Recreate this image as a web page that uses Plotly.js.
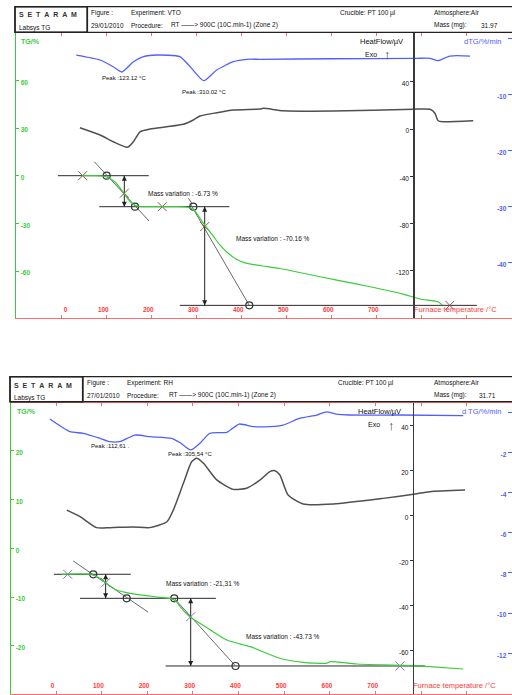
<!DOCTYPE html>
<html><head><meta charset="utf-8">
<script src="https://cdn.plot.ly/plotly-3.0.1.min.js"></script>
<style>html,body{margin:0;padding:0;background:#fff;}#chart{width:512px;height:695px;}</style>
</head><body><div id="chart"></div>
<script>
// ================= DATA: top experiment (VTO) =================
const tempA_tg = [54, 82, 93, 104, 115, 126, 137, 146, 155, 164, 173, 186, 204, 266, 284, 293, 302, 310, 319, 330, 344, 359, 377, 395, 417, 448, 493, 544, 619, 693, 766, 804, 844, 853];
const tgA      = [0, 0, -0.1, -0.5, -1.8, -4.0, -7.7, -11.2, -14.7, -17.5, -18.9, -19.4, -19.5, -19.5, -19.7, -20.3, -21.6, -24.7, -28.5, -32.9, -37.9, -43.6, -48.7, -52.4, -55.0, -56.5, -58.4, -61.4, -65.7, -69.9, -74.5, -77.6, -79.3, -81.4];
const tempA_hf = [48, 93, 122, 154, 167, 182, 204, 241, 278, 300, 315, 352, 389, 448, 456, 500, 611, 789, 826, 837, 844, 856, 922];
const hfA      = [1.1, -5.1, -10.8, -15.5, -10.8, -2.3, 0, 1.9, 4.0, 7.6, 11.0, 13.8, 16.1, 16.9, 17.5, 15.5, 15.2, 16.7, 16.7, 13.3, 7.0, 6.2, 7.0];
const tempA_dtg = [40, 93, 122, 141, 167, 189, 219, 270, 293, 323, 352, 389, 419, 448, 604, 796, 826, 844, 870, 915];
const dtgA      = [-2.95, -3.84, -5.04, -5.98, -4.14, -3.25, -2.95, -3.25, -5.04, -7.54, -5.63, -4.14, -3.71, -3.71, -3.62, -3.54, -3.54, -3.96, -3.13, -3.13];
// tangent construction (top)
const baseA_T  = [-1, 201, null, 91, 380, null, 270, 930];
const baseA_TG = [0, 0, null, -19.5, -19.5, null, -81.6, -81.6];
const tanA_T   = [80, 201.6, null, 292.7, 424.4, null, 289, 297.8];
const tanA_TG  = [8.8, -28.5, null, -17.4, -81.6, null, -14.2, -17.8];
const arrA_T   = [146.7, 146.7, null, 325.3, 325.3];
const arrA_TG  = [0, -19.5, null, -19.5, -81.6];
const crossA_T  = [54, 146.7, 231, 325.3, 870];
const crossA_TG = [0, -11, -19.5, -32, -81.6];
const ringA_T  = [107.5, 170.4, 300, 424.4];
const ringA_TG = [0, -19.5, -19.5, -81.6];

// ================= DATA: bottom experiment (RH) =================
const tempB_tg = [20, 82, 104, 122, 140, 169, 206, 235, 257, 271, 279, 300, 337, 381, 432, 497, 548, 599, 607, 665, 767, 825, 898];
const tgB      = [-5.33, -5.33, -6.15, -7.53, -8.55, -9.23, -9.72, -10.05, -10.26, -10.95, -11.98, -14.03, -16.25, -18.81, -20.18, -22.56, -23.38, -23.59, -23.26, -23.73, -24.0, -24.29, -24.76];
const tempB_hf = [31, 60, 96, 126, 176, 213, 250, 264, 286, 304, 315, 330, 359, 395, 424, 454, 475, 486, 497, 515, 548, 614, 723, 789, 825, 902];
const hfB      = [2.5, -0.4, -5.3, -5.3, -5.0, -5.3, -2.7, 2.5, 14.4, 24.0, 25.5, 23.3, 15.9, 11.7, 12.2, 15.9, 19.6, 20.0, 18.1, 9.2, 5.2, 5.2, 7.7, 9.5, 10.7, 11.4];
const tempB_dtg = [-6, 38, 67, 104, 125, 147, 180, 213, 260, 279, 302, 322, 344, 381, 408, 439, 475, 504, 541, 578, 599, 621, 650, 760, 898];
const dtgB      = [-0.33, -0.96, -1.04, -1.29, -1.46, -1.46, -1.13, -1.21, -1.29, -1.51, -1.87, -1.54, -1.04, -0.99, -0.58, -0.71, -0.71, -0.63, -0.29, -0.13, 0.03, -0.09, -0.13, -0.13, -0.16];
const baseB_T  = [3, 171, null, 60, 357, null, 247, 814];
const baseB_TG = [-5.33, -5.33, null, -10.26, -10.26, null, -24.14, -24.14];
const tanB_T   = [45, 209, null, 266, 400];
const tanB_TG  = [-2.6, -13.1, null, -10.26, -24.14];
const arrB_T   = [116, 116, null, 302, 302];
const arrB_TG  = [-5.33, -10.26, null, -10.26, -24.14];
const crossB_T  = [33, 116, 302, 759.5];
const crossB_TG = [-5.33, -7.05, -14.03, -24.14];
const ringB_T  = [89, 162, 266, 400];
const ringB_TG = [-5.33, -10.26, -10.26, -24.14];

// tick labels
const tempTicks = [0, 100, 200, 300, 400, 500, 600, 700];
const tempTextA = ['\u2007\u2007\u2007\u20070', '100', '200', '300', '400', '500', '600', '700'];
const tempTextB = ['0', '100', '200', '300', '400', '500', '600', '700'];
const tgTicksA = [-60, -30, 0, 30, 60];
const tgTextA = ['-60', '-30', '0', '30', '60'];
const hfTicksA = [40, 0, -40, -80, -120];
const hfTextA = ['40', '0', '-40', '-80', '-120'];
const dtgTicksA = [0, -10, -20, -30, -40];
const dtgTextA = ['', '-10', '-20', '-30', '-40'];
const tgTicksB = [-20, -10, 0, 10, 20];
const tgTextB = ['-20', '-10', '0', '10', '20'];
const hfTicksB = [40, 20, 0, -20, -40, -60];
const hfTextB = ['40', '20', '0', '-20', '-40', '-60'];
const dtgTicksB = [0, -2, -4, -6, -8, -10, -12];
const dtgTextB = ['', '-2', '-4', '-6', '-8', '-10', '-12'];

// ================= STYLE / LAYOUT =================
const W = 512, H = 695;
const FONT = 'Liberation Sans, Arial, sans-serif';
const GREEN = '#3acb3a', BLUE = '#5060ff', RED = '#ff3b3b', REDLINE = '#ff6b6b', HFC = '#505050';
const PX = x => x / W, PY = y => 1 - y / H;
function xr(p0, s, lo, hi) { return [(lo - p0) / s, (hi - p0) / s]; }
function yr(p0, s, top, bot) { return [(p0 - bot) / s, (p0 - top) / s]; }

const A = {l: 16, r: 512, t: 33, b: 318};
const B = {l: 11, r: 512, t: 403.3, b: 694};

function curve(x, y, xa, ya, color, w) {
  return {type: 'scatter', mode: 'lines', x: x, y: y, xaxis: xa, yaxis: ya,
    line: {color: color, width: w, shape: 'spline', smoothing: 0.6}, hoverinfo: 'skip', connectgaps: false};
}
function cons(bx, by, tx, ty, ax, ay, cx, cy, rx, ry, xa, ya) {
  return [
    {type: 'scatter', mode: 'lines', x: bx, y: by, xaxis: xa, yaxis: ya, line: {color: '#2a2a2a', width: 1}, hoverinfo: 'skip'},
    {type: 'scatter', mode: 'lines', x: tx, y: ty, xaxis: xa, yaxis: ya, line: {color: '#6a6a6a', width: 1}, hoverinfo: 'skip'},
    {type: 'scatter', mode: 'lines+markers', x: ax, y: ay, xaxis: xa, yaxis: ya, line: {color: '#222', width: 1},
      marker: {symbol: ['arrow-up', 'arrow-down', 'circle', 'arrow-up', 'arrow-down'], size: 5, color: '#222'}, hoverinfo: 'skip'},
    {type: 'scatter', mode: 'markers', x: cx, y: cy, xaxis: xa, yaxis: ya,
      marker: {symbol: 'x-thin-open', size: 9, line: {color: '#555', width: 1}}, hoverinfo: 'skip'},
    {type: 'scatter', mode: 'markers', x: rx, y: ry, xaxis: xa, yaxis: ya,
      marker: {symbol: 'circle-open', size: 7, color: '#333', line: {color: '#333', width: 1.2}}, hoverinfo: 'skip'}
  ];
}

const data = [
  curve(tempA_dtg, dtgA, 'x', 'y3', BLUE, 1.3),
  curve(tempA_hf, hfA, 'x', 'y2', HFC, 1.5),
  ...cons(baseA_T, baseA_TG, tanA_T, tanA_TG, arrA_T, arrA_TG, crossA_T, crossA_TG, ringA_T, ringA_TG, 'x', 'y'),
  curve(tempA_tg, tgA, 'x', 'y', GREEN, 1.2),
  {type: 'scatter', mode: 'markers', x: [0], y: [null], xaxis: 'x2', yaxis: 'y', hoverinfo: 'skip'},
  curve(tempB_dtg, dtgB, 'x3', 'y6', BLUE, 1.3),
  curve(tempB_hf, hfB, 'x3', 'y5', HFC, 1.5),
  ...cons(baseB_T, baseB_TG, tanB_T, tanB_TG, arrB_T, arrB_TG, crossB_T, crossB_TG, ringB_T, ringB_TG, 'x3', 'y4'),
  curve(tempB_tg, tgB, 'x3', 'y4', GREEN, 1.2),
  {type: 'scatter', mode: 'markers', x: [0], y: [null], xaxis: 'x4', yaxis: 'y4', hoverinfo: 'skip'}
];

const base = {showgrid: false, zeroline: false, automargin: false, fixedrange: true};
function tempAxis(P, cal, anchor, txt) {
  return Object.assign({}, base, {domain: [PX(P.l), PX(P.r)], range: xr(cal[0], cal[1], P.l, P.r), anchor: anchor,
    tickmode: 'array', tickvals: tempTicks, ticktext: txt, ticks: '', showline: false, ticklabelposition: 'inside', ticklabelstandoff: 2,
    tickfont: {family: FONT, size: 6.5, color: RED, weight: 'bold'}});
}
function frameAxis(P, cal, over, anchor) {
  return Object.assign({}, base, {overlaying: over, anchor: anchor, range: xr(cal[0], cal[1], P.l, P.r),
    tickmode: 'linear', tick0: 0, dtick: 1, ticks: 'inside', ticklen: 3, tickcolor: REDLINE, tickwidth: 1,
    showline: true, linecolor: REDLINE, linewidth: 1.3, mirror: 'ticks', showticklabels: false});
}
function tgAxis(P, cal, anchor, vals, txt) {
  return Object.assign({}, base, {domain: [PY(P.b), PY(P.t)], range: yr(cal[0], cal[1], P.t, P.b), anchor: anchor,
    tickmode: 'array', tickvals: vals, ticktext: txt, ticks: 'inside', ticklen: 3, tickcolor: GREEN, showline: true, linecolor: GREEN, linewidth: 1.5,
    ticklabelposition: 'inside', ticklabelshift: 2, tickfont: {family: FONT, size: 6.5, color: GREEN, weight: 'bold'}});
}
function hfAxis(P, cal, over, pos, vals, txt) {
  return Object.assign({}, base, {overlaying: over, anchor: 'free', position: pos, side: 'left', range: yr(cal[0], cal[1], P.t, P.b),
    tickmode: 'array', tickvals: vals, ticktext: txt, ticks: 'outside', ticklen: 3, tickcolor: '#333', showline: true, linecolor: '#3a3a3a', linewidth: 1.5,
    ticklabelshift: 2, tickfont: {family: FONT, size: 6.5, color: '#111'}});
}
function dtgAxis(P, cal, over, anchor, vals, txt) {
  return Object.assign({}, base, {overlaying: over, anchor: anchor, side: 'right', range: yr(cal[0], cal[1], P.t, P.b),
    tickmode: 'array', tickvals: vals, ticktext: txt, ticks: 'inside', ticklen: 4, tickcolor: BLUE, showline: false,
    ticklabelposition: 'inside', ticklabelshift: 2, tickfont: {family: FONT, size: 6.5, color: BLUE, weight: 'bold'}});
}

function T(text, x, y, o) {
  o = o || {};
  return {text: text, x: PX(x), y: PY(y), xref: 'paper', yref: 'paper', showarrow: false,
    xanchor: o.a || 'left', yanchor: 'middle', borderpad: 0,
    font: {family: FONT, size: o.s || 6.5, color: o.c || '#111', weight: o.w || 'normal'}};
}
const ARROW = 'RT \u2014\u2014> 900C (10C.min-1) (Zone 2)';
const LOGO = 'S\u00a0\u00a0E\u00a0\u00a0T\u00a0\u00a0A\u00a0\u00a0R\u00a0\u00a0A\u00a0\u00a0M';
const annotations = [
  // header A
  T(LOGO, 17.5, 15, {s: 7, w: 'bold', c: '#333'}),
  T('Labsys TG', 17.5, 27.7), T('Figure :', 90, 13.3), T('Experiment: VTO', 129.5, 13.3),
  T('Crucible: PT 100 \u00b5l', 338.5, 13.3), T('Atmosphere:Air', 433, 13.3),
  T('29/01/2010', 90, 25), T('Procedure:', 129.5, 25), T(ARROW, 169.5, 25),
  T('Mass (mg):', 433, 25), T('31.97', 479.5, 25),
  // header B
  T(LOGO, 12.5, 385, {s: 7, w: 'bold', c: '#333'}),
  T('Labsys TG', 12.5, 397.7), T('Figure :', 85.5, 383.3), T('Experiment: RH', 126, 383.3),
  T('Crucible: PT 100 \u00b5l', 337, 383.3), T('Atmosphere:Air', 432.5, 383.3),
  T('27/01/2010', 85.5, 395), T('Procedure:', 126, 395), T(ARROW, 168, 395),
  T('Mass (mg):', 432.5, 395), T('31.71', 478, 395),
  // axis titles A
  T('TG/%', 19.5, 41.7, {s: 7, c: GREEN, w: 'bold'}),
  T('HeatFlow/\u00b5V', 358.5, 41.7, {s: 7.5}),
  T('Exo', 364, 54.3, {s: 7}), T('\u2191', 387.7, 54.5, {s: 13, a: 'center', c: '#444'}),
  T('dTG/%/min', 463, 41.7, {s: 7.5, c: BLUE}),
  T('Furnace temperature /\u00b0C', 412.5, 309, {s: 7.5, c: RED}),
  // axis titles B
  T('TG/%', 16, 411.7, {s: 7, c: GREEN, w: 'bold'}),
  T('HeatFlow/\u00b5V', 357, 411, {s: 7.5}),
  T('Exo', 367, 424, {s: 7}), T('\u2191', 391.7, 425.5, {s: 13, a: 'center', c: '#444'}),
  T('d TG/%/min', 461, 411, {s: 7.5, c: BLUE}),
  T('Furnace temperature /\u00b0C', 412, 685.7, {s: 7.5, c: RED}),
  // data labels A
  T('Peak :123.12 \u00b0C', 123.7, 78.3, {s: 6, a: 'center'}),
  T('Peak :310.02 \u00b0C', 203.7, 91.7, {s: 6, a: 'center'}),
  T('Mass variation : -6.73 %', 183.3, 193.3, {s: 6.5, a: 'center'}),
  T('Mass variation : -70.16 %', 272.5, 238.3, {s: 6.5, a: 'center'}),
  // data labels B
  T('Peak :112,61 .', 110, 445.5, {s: 6, a: 'center'}),
  T('Peak :305,54 \u00b0C', 190.3, 454, {s: 6, a: 'center'}),
  T('Mass variation : -21,31 %', 202.5, 583, {s: 6.5, a: 'center'}),
  T('Mass variation : -43.73 %', 283.3, 636.7, {s: 6.5, a: 'center'})
];

function rect(x0, y0, x1, y1, w) {
  return {type: 'rect', xref: 'paper', yref: 'paper', x0: PX(x0), x1: PX(x1), y0: PY(y1), y1: PY(y0), line: {color: '#222', width: w}};
}
function vline(x, y0, y1, w) {
  return {type: 'line', xref: 'paper', yref: 'paper', x0: PX(x), x1: PX(x), y0: PY(y0), y1: PY(y1), line: {color: '#222', width: w}};
}
const shapes = [
  rect(15, 6.7, 514, 32.3, 1.2), vline(87.3, 6.7, 32.3, 1.5), rect(15, 6.7, 87.3, 32.3, 1.5),
  rect(10, 376.7, 514, 401.7, 1.2), vline(82.7, 376.7, 401.7, 1.5), rect(10, 376.7, 82.7, 401.7, 1.5)
];

const layout = {
  width: W, height: H, margin: {l: 0, r: 0, t: 0, b: 0}, paper_bgcolor: '#fff', plot_bgcolor: 'rgba(0,0,0,0)',
  showlegend: false, font: {family: FONT},
  xaxis: tempAxis(A, [58.3, 0.45], 'y', tempTextA),
  xaxis2: frameAxis(A, [61, 45.1], 'x', 'y'),
  yaxis: tgAxis(A, [175.7, 1.589], 'x', tgTicksA, tgTextA),
  yaxis2: hfAxis(A, [129, 1.181], 'y', PX(413.3), hfTicksA, hfTextA),
  yaxis3: dtgAxis(A, [38.5, 5.6], 'y', 'x', dtgTicksA, dtgTextA),
  xaxis3: tempAxis(B, [52.6, 0.4573], 'y4', tempTextB),
  xaxis4: frameAxis(B, [56, 45.65], 'x3', 'y4'),
  yaxis4: tgAxis(B, [548.3, 4.875], 'x3', tgTicksB, tgTextB),
  yaxis5: hfAxis(B, [515.7, 2.25], 'y4', PX(412.7), hfTicksB, hfTextB),
  yaxis6: dtgAxis(B, [412.4, 20.07], 'y4', 'x3', dtgTicksB, dtgTextB),
  annotations: annotations, shapes: shapes
};
Plotly.newPlot('chart', data, layout, {staticPlot: true, displayModeBar: false});
</script></body></html>
